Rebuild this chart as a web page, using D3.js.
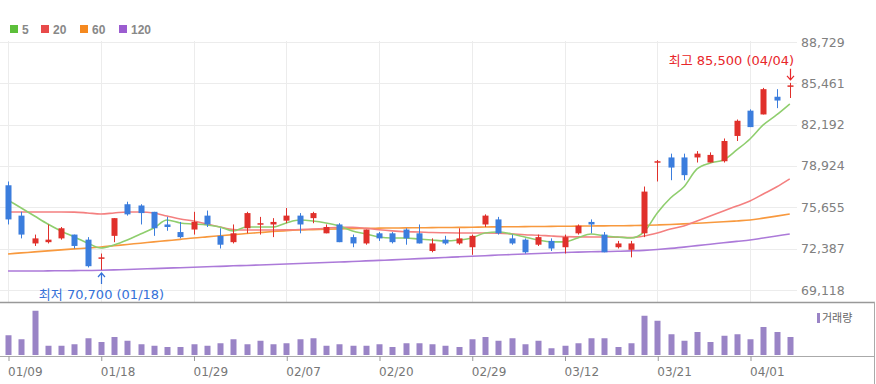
<!DOCTYPE html>
<html>
<head>
<meta charset="utf-8">
<script src="https://cdn.jsdelivr.net/npm/d3@7"></script>
<style>
body { margin: 0; background: #fff; }
svg { display: block; font-family: "DejaVu Sans", "Noto Sans CJK KR", sans-serif; }
</style>
</head>
<body>
<svg id="chart" width="876" height="384"></svg>
<script>
// trading days shown
const dates = ['01/09','01/10','01/11','01/12','01/15','01/16','01/17','01/18','01/19','01/22',
  '01/23','01/24','01/25','01/26','01/29','01/30','01/31','02/01','02/02','02/05',
  '02/06','02/07','02/08','02/13','02/14','02/15','02/16','02/19','02/20','02/21',
  '02/22','02/23','02/26','02/27','02/28','02/29','03/04','03/05','03/06','03/07',
  '03/08','03/11','03/12','03/13','03/14','03/15','03/18','03/19','03/20','03/21',
  '03/22','03/25','03/26','03/27','03/28','03/29','04/01','04/02','04/03','04/04'];

const openP = [77400,75000,72800,72900,73200,73500,73100,71600,73400,75900,
  75800,75300,74300,73700,73900,75000,73400,72900,74000,74300,
  74300,74600,75000,74800,73600,74300,73300,72800,73600,73600,
  73900,73600,72200,73100,72800,72500,74300,74700,73200,73100,
  72700,73000,72500,73600,74500,73500,72500,72300,73600,79200,
  79600,79600,79600,79200,79300,81300,83300,83000,84400,85200];
const highP = [77700,75300,73500,74300,74100,73500,73300,72000,74800,76100,
  75900,75300,74900,74500,75300,75400,74000,74300,75300,74900,
  74800,75600,75200,75300,74300,74400,73500,73900,73700,73700,
  74000,74300,73200,73400,74000,73500,75100,74900,73500,73200,
  73500,73200,73500,74300,74700,73700,73000,73000,77300,79400,
  79900,79900,80100,80000,81100,82600,83400,85100,85000,85500];
const lowP = [74300,73200,72600,72800,73100,72400,70900,70700,72900,75000,
  74300,73400,73800,73200,73500,74100,72400,72800,73600,73500,
  73300,74400,73600,74400,73600,72900,72500,72700,73000,72800,
  72700,72800,72100,72700,72700,71900,74100,73500,72700,72000,
  72600,72200,72000,73500,73600,72100,72400,71700,73300,77700,
  77800,77800,79200,79200,79200,80900,82000,83000,83500,84300];
const closeP = [74700,73500,73200,73100,74000,72600,71000,71700,74800,75100,
  75200,74000,74100,73300,74500,74300,72700,73600,75200,74400,
  74500,75000,74300,75200,74100,72900,72800,73900,73200,72900,
  73200,72800,72800,72800,73200,73400,75000,73600,72800,72100,
  73300,72400,73300,74200,74300,72100,72800,72800,76900,79300,
  78800,78200,79900,79800,80900,82500,82000,85000,84100,85300];

// moving averages as drawn
const ma5 = [76230,75600,74970,74340,73790,73310,72840,72440,72680,73070,
  73550,74020,74650,74420,74340,74260,74100,73790,74100,74100,
  74100,74420,74650,74580,74420,74180,73790,73550,73310,73230,
  73230,73150,73070,73000,73070,73230,73630,73710,73550,73310,
  73070,72920,72920,73230,73550,73390,73310,73230,73710,75210,
  76390,77260,78690,79160,79400,80190,81060,82170,82960,83830];
const ma20 = [75290,75290,75290,75290,75290,75280,75210,75130,75210,75290,
  75290,75210,74970,74730,74580,74340,74100,73900,73860,73860,
  73860,73870,73900,73940,74000,74080,74080,74000,73880,73790,
  73730,73700,73660,73640,73630,73630,73630,73610,73560,73490,
  73450,73390,73340,73320,73310,73310,73300,73270,73390,73630,
  73940,74180,74580,74970,75360,75760,76160,76710,77260,77900];
const ma60 = [71970,72050,72130,72210,72290,72370,72440,72520,72620,72720,
  72820,72920,73020,73120,73230,73320,73410,73500,73580,73660,
  73740,73810,73860,73890,73920,73950,73970,73990,74010,74020,
  74030,74040,74050,74060,74070,74080,74100,74110,74120,74130,
  74140,74150,74160,74170,74180,74190,74200,74210,74230,74260,
  74300,74350,74400,74450,74510,74580,74650,74800,74960,75130];
const ma120 = [70620,70620,70620,70630,70640,70650,70660,70680,70710,70740,
  70780,70810,70850,70880,70920,70960,70990,71030,71060,71100,
  71140,71170,71210,71250,71290,71330,71370,71420,71460,71500,
  71550,71600,71640,71690,71740,71790,71830,71880,71920,71960,
  72000,72040,72080,72110,72140,72160,72180,72210,72250,72320,
  72410,72510,72630,72740,72850,72960,73070,73230,73390,73550];

// volume, million shares
const volume = [15.8,12.6,35.4,7.4,7.4,8.6,13.4,10.4,14.4,11.4,
  8.6,7.4,6.4,6.4,8.6,7.4,9.4,12.6,8.6,11.4,
  8.6,9.4,12.6,13.4,7.4,8.6,7.4,7.4,8.6,6.4,
  9.4,9.4,8.6,7.4,6.4,12.6,14.4,11.4,13.4,8.6,
  11.4,5.4,7.4,9.4,13.4,13.4,6.4,9.4,31.4,27.4,
  16.6,11.4,18.4,10.4,15.4,16.6,12.6,22.4,18.4,14.4];

const priceTicks = [69118, 72387, 75655, 78924, 82192, 85461, 88729];
const tickDates = ['01/09','01/18','01/29','02/07','02/20','02/29','03/12','03/21','04/01'];

const maLabels = ['5', '20', '60', '120'];
const maColors = ['#5cbf3a', '#e84a4a', '#f5891f', '#9b5cd0'];
const lineColors = ['#8fce6e', '#f48080', '#f8993e', '#ac7ad9'];

const upColor = '#e0302b';
const downColor = '#3b7ddd';
const volColor = '#9a84c6';

const svg = d3.select('#chart');
const plotRight = 797;

const x = d3.scalePoint().domain(dates).range([8, 789.75]);
const y = d3.scaleLinear().domain([69118, 88729]).range([290, 42]);
const yVol = d3.scaleLinear().domain([0, 40]).range([355, 305]);

// grid
const grid = svg.append('g');
grid.selectAll('.hgrid')
    .data(priceTicks)
    .enter()
    .append('line')
    .attr('x1', 0)
    .attr('x2', plotRight)
    .attr('y1', d => Math.round(y(d)) + 0.5)
    .attr('y2', d => Math.round(y(d)) + 0.5)
    .attr('stroke', '#ececec');
grid.selectAll('.vgrid')
    .data(tickDates)
    .enter()
    .append('line')
    .attr('x1', d => Math.round(x(d)) + 0.5)
    .attr('x2', d => Math.round(x(d)) + 0.5)
    .attr('y1', 41)
    .attr('y2', 302)
    .attr('stroke', '#ececec');

// pane borders
svg.append('line').attr('x1', 0).attr('x2', 875).attr('y1', 302.5).attr('y2', 302.5)
    .attr('stroke', '#999').attr('stroke-width', 1.5);
svg.append('line').attr('x1', 0).attr('x2', 875).attr('y1', 356.5).attr('y2', 356.5)
    .attr('stroke', '#aaa');
svg.append('line').attr('x1', 874.5).attr('x2', 874.5).attr('y1', 302).attr('y2', 384)
    .attr('stroke', '#aaa');

// right price axis
const yAxis = d3.axisRight(y)
    .tickValues(priceTicks)
    .tickFormat(d3.format(','))
    .tickSize(0)
    .tickPadding(0);
const yAxisG = svg.append('g')
    .attr('transform', 'translate(801,0)')
    .call(yAxis);
yAxisG.select('.domain').remove();
yAxisG.selectAll('text')
    .attr('fill', '#808080')
    .style('font-size', '12.5px')
    .style('font-family', '"DejaVu Sans", sans-serif');

// x axis under volume pane
const xAxis = d3.axisBottom(x)
    .tickValues(tickDates)
    .tickSize(5)
    .tickPadding(6);
const xAxisG = svg.append('g')
    .attr('transform', 'translate(0.5,356)')
    .call(xAxis);
xAxisG.select('.domain').remove();
xAxisG.selectAll('line').attr('stroke', '#999');
xAxisG.selectAll('text')
    .attr('text-anchor', 'start')
    .attr('x', -1)
    .attr('fill', '#777')
    .style('font-size', '12px')
    .style('font-family', '"DejaVu Sans", sans-serif');

// moving average lines
const maSeries = [ma5, ma20, ma60, ma120];
const line = d3.line()
    .x((d, i) => x(dates[i]))
    .y(d => y(d))
    .curve(d3.curveMonotoneX);
svg.append('g')
    .selectAll('path')
    .data(maSeries.slice().reverse())
    .enter()
    .append('path')
    .attr('d', line)
    .attr('fill', 'none')
    .attr('stroke', (d, i) => lineColors[3 - i])
    .attr('stroke-width', 1.6);

// candles
const candles = dates.map((d, i) => ({
    date: d, o: openP[i], h: highP[i], l: lowP[i], c: closeP[i], v: volume[i]
}));
const candle = svg.append('g')
    .selectAll('g')
    .data(candles)
    .enter()
    .append('g')
    .attr('transform', d => `translate(${Math.round(x(d.date))},0)`);
candle.append('line')
    .attr('x1', 0.5)
    .attr('x2', 0.5)
    .attr('y1', d => y(d.h))
    .attr('y2', d => y(d.l))
    .attr('stroke', d => (d.c >= d.o ? upColor : downColor));
candle.append('rect')
    .attr('x', -2.5)
    .attr('width', 6)
    .attr('y', d => y(Math.max(d.o, d.c)))
    .attr('height', d => Math.max(1.5, Math.abs(y(d.o) - y(d.c))))
    .attr('fill', d => (d.c >= d.o ? upColor : downColor));

// volume bars
svg.append('g')
    .selectAll('rect')
    .data(candles)
    .enter()
    .append('rect')
    .attr('x', d => Math.round(x(d.date)) - 2.5)
    .attr('width', 6)
    .attr('y', d => yVol(d.v))
    .attr('height', d => yVol(0) - yVol(d.v))
    .attr('fill', volColor);

// legend
const legend = svg.append('g').attr('transform', 'translate(10,25)');
const legendX = [0, 31, 70, 109];
const item = legend.selectAll('g')
    .data(maLabels)
    .enter()
    .append('g')
    .attr('transform', (d, i) => `translate(${legendX[i]},0)`);
item.append('rect')
    .attr('width', 8)
    .attr('height', 8)
    .attr('fill', (d, i) => maColors[i]);
item.append('text')
    .attr('x', 12)
    .attr('y', 8.5)
    .attr('fill', '#888')
    .style('font-family', '"Liberation Sans", Arial, sans-serif')
    .style('font-size', '12px')
    .style('font-weight', 'bold')
    .text(d => d);

// volume legend
svg.append('rect').attr('x', 817).attr('y', 313).attr('width', 3).attr('height', 10).attr('fill', volColor);
svg.append('text').attr('x', 822).attr('y', 322)
    .attr('fill', '#666')
    .style('font-size', '11px')
    .style('font-family', '"Noto Sans CJK KR", sans-serif')
    .text('거래량');

// max / min markers
const iMax = d3.maxIndex(highP);
const iMin = d3.minIndex(lowP);
const fmt = d3.format(',');
const hx = Math.round(x(dates[iMax])) + 0.5;
const hy = y(highP[iMax]);
svg.append('text')
    .attr('x', 794)
    .attr('y', hy - 18)
    .attr('text-anchor', 'end')
    .attr('fill', '#e8262a')
    .style('font-size', '13px')
    .text(`최고 ${fmt(highP[iMax])} (${dates[iMax]})`);
svg.append('path')
    .attr('d', `M${hx},${hy - 14}V${hy - 3}M${hx - 3.5},${hy - 7}L${hx},${hy - 3}L${hx + 3.5},${hy - 7}`)
    .attr('fill', 'none')
    .attr('stroke', '#e8262a')
    .attr('stroke-width', 1.2);

const lx = Math.round(x(dates[iMin])) + 0.5;
const ly = y(lowP[iMin]);
svg.append('text')
    .attr('x', lx)
    .attr('y', ly + 29)
    .attr('text-anchor', 'middle')
    .attr('fill', '#3571d8')
    .style('font-size', '13px')
    .text(`최저 ${fmt(lowP[iMin])} (${dates[iMin]})`);
svg.append('path')
    .attr('d', `M${lx},${ly + 14}V${ly + 3}M${lx - 3.5},${ly + 7}L${lx},${ly + 3}L${lx + 3.5},${ly + 7}`)
    .attr('fill', 'none')
    .attr('stroke', '#3571d8')
    .attr('stroke-width', 1.2);
</script>
</body>
</html>
